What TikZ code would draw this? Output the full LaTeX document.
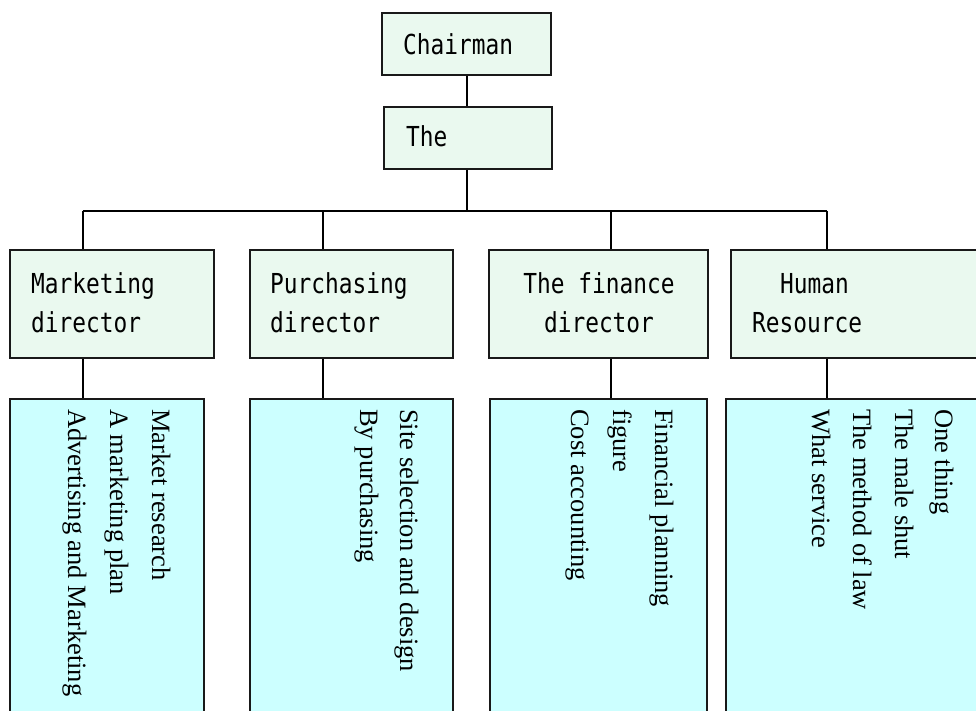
\documentclass[tikz,border=0pt]{standalone}
\usepackage{fontspec}
\setmainfont{Liberation Serif}
\newfontfamily\gothic[FakeStretch=0.83]{DejaVu Sans Mono}
\definecolor{mint}{RGB}{234,249,239}
\definecolor{paleCyan}{RGB}{204,255,255}
\begin{document}
\begin{tikzpicture}[x=1pt,y=-1pt,
  headbox/.style={draw=black!90, line width=2pt, fill=mint, inner sep=0pt},
  taskbox/.style={draw=black!90, line width=2pt, fill=paleCyan, inner sep=0pt},
  headtxt/.style={inner sep=0pt, font=\gothic\fontsize{27.5}{33}\selectfont},
  tasktxt/.style={inner sep=0pt, rotate=-90, anchor=base west, font=\fontsize{26.5}{32}\selectfont},
  link/.style={draw=black, line width=2pt}]
\useasboundingbox (0,0) rectangle (976,711);
\clip (0,0) rectangle (976,711);

% top boxes
\node[headbox, minimum width=169pt, minimum height=62pt] (chair) at (466.5,44) {};
\node[headbox, minimum width=168pt, minimum height=62pt] (the) at (468,138) {};
\node[headtxt, anchor=base west] (chairT) at (403,55) {Chairman};
\node[headtxt, anchor=base west] (theT) at (406,147) {The};

% director boxes
\node[headbox, minimum width=204pt, minimum height=108pt] (m1) at (112,304) {};
\node[headbox, minimum width=203pt, minimum height=108pt] (m2) at (351.5,304) {};
\node[headbox, minimum width=219pt, minimum height=108pt] (m3) at (598.5,304) {};
\node[headbox, minimum width=279pt, minimum height=108pt] (m4) at (870.5,304) {};

\node[headtxt, anchor=base west] (m1a) at (31,293) {Marketing};
\node[headtxt, anchor=base west] (m1b) at (31,332) {director};
\node[headtxt, anchor=base west] (m2a) at (270,293) {Purchasing};
\node[headtxt, anchor=base west] (m2b) at (270,332) {director};
\node[headtxt, anchor=base] (m3a) at (599,293) {The finance};
\node[headtxt, anchor=base] (m3b) at (599,332) {director};
\node[headtxt, anchor=base west] (m4a) at (780,293) {Human};
\node[headtxt, anchor=base west] (m4b) at (752,332) {Resource};

% task boxes
\node[taskbox, minimum width=194pt, minimum height=340pt] (b1) at (107,569) {};
\node[taskbox, minimum width=203pt, minimum height=340pt] (b2) at (351.5,569) {};
\node[taskbox, minimum width=217pt, minimum height=340pt] (b3) at (598.5,569) {};
\node[taskbox, minimum width=284pt, minimum height=340pt] (b4) at (868,569) {};

\node[tasktxt] (b1a) at (152,409) {Market research};
\node[tasktxt] (b1b) at (110,409) {A marketing plan};
\node[tasktxt] (b1c) at (68,409) {Advertising and Marketing};
\node[tasktxt] (b2a) at (400,409) {Site selection and design};
\node[tasktxt] (b2b) at (360,409) {By purchasing};
\node[tasktxt] (b3a) at (655,409) {Financial planning};
\node[tasktxt] (b3b) at (613,409) {figure};
\node[tasktxt] (b3c) at (571,409) {Cost accounting};
\node[tasktxt] (b4a) at (935,409) {One thing};
\node[tasktxt] (b4b) at (895,409) {The male shut};
\node[tasktxt] (b4c) at (853,409) {The method of law};
\node[tasktxt] (b4d) at (812,409) {What service};

% connectors
\coordinate (bus) at (467,211);
\coordinate (j1) at (82.5,211);
\coordinate (j2) at (322.5,211);
\coordinate (j3) at (610.5,211);
\coordinate (j4) at (826.5,211);

\draw[link] (chair.south) -- (chair.south |- the.north);
\draw[link] (bus |- the.south) -- (bus);
\draw[link] (j1) -- (j4);
\foreach \i in {1,2,3,4}{
  \draw[link] (j\i) -- (j\i |- m\i.north);
  \draw[link] (j\i |- m\i.south) -- (j\i |- b\i.north);
}
\end{tikzpicture}
\end{document}
